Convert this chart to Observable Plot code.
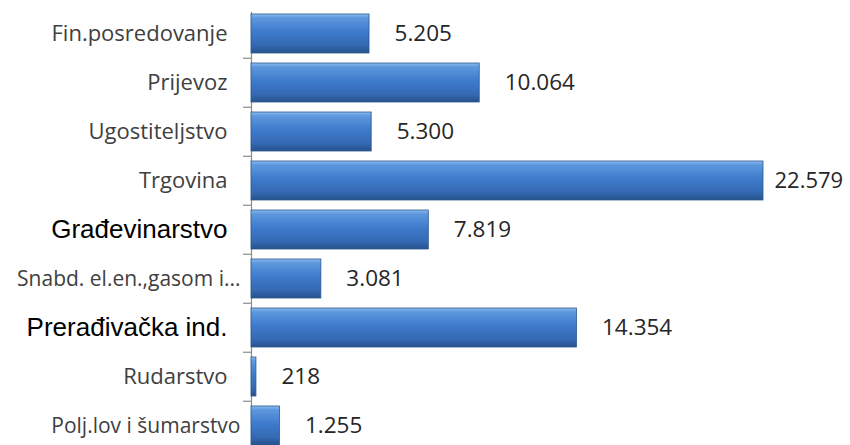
<!DOCTYPE html>
<html>
<head>
<meta charset="utf-8">
<script src="https://cdn.jsdelivr.net/npm/d3@7"></script>
<script src="https://cdn.jsdelivr.net/npm/@observablehq/plot@0.6"></script>
<style>
  html, body { margin: 0; padding: 0; background: #fff; }
  #chart svg { display: block; }
</style>
</head>
<body>
<div id="chart"></div>
<script>
const categories = [
  "Fin.posredovanje",
  "Prijevoz",
  "Ugostiteljstvo",
  "Trgovina",
  "Građevinarstvo",
  "Snabd. el.en.,gasom i...",
  "Prerađivačka ind.",
  "Rudarstvo",
  "Polj.lov i šumarstvo"
];
const values = [5205, 10064, 5300, 22579, 7819, 3081, 14354, 218, 1255];
const valueLabels = ["5.205", "10.064", "5.300", "22.579", "7.819", "3.081", "14.354", "218", "1.255"];
const altFontLabels = ["Građevinarstvo", "Prerađivačka ind."];
const wideLabels = ["Snabd. el.en.,gasom i...", "Polj.lov i šumarstvo"];

const data = categories.map((c, i) => ({category: c, value: values[i], label: valueLabels[i]}));
const maxValue = d3.max(values);
const normalLabels = data.filter(d => !altFontLabels.includes(d.category) && !wideLabels.includes(d.category));
const wideLabelData = data.filter(d => wideLabels.includes(d.category));
const altLabels = data.filter(d => altFontLabels.includes(d.category));

const calibriLike = "'Open Sans', 'Noto Sans', sans-serif";
const xRange = [251, 763];
const tickLen = 8;

const chart = Plot.plot({
  width: 850,
  height: 445,
  marginTop: 12,
  marginBottom: 0,
  marginLeft: xRange[0] - tickLen,
  marginRight: 850 - xRange[1],
  x: {domain: [0, maxValue], range: xRange, axis: null},
  y: {domain: categories, range: [2.1, 457.5], padding: 0.2, axis: null},
  marks: [
    Plot.ruleX([0], {stroke: "#8c8c8c", strokeWidth: 1.2}),
    Plot.tickY(categories.slice(1), {
      y: d => d, dy: -24.75, insetRight: xRange[1] - xRange[0],
      stroke: "#8c8c8c", strokeWidth: 1.2
    }),
    Plot.barX(data, {
      y: "category",
      x: "value",
      fill: "url(#barGrad)",
      stroke: "#2b5890",
      strokeWidth: 0.8,
      style: "filter: drop-shadow(0px 3px 2px rgba(0,0,0,0.35))"
    }),
    Plot.text(normalLabels, {
      y: "category", x: 0, text: "category", textAnchor: "end", dx: -24,
      fontFamily: calibriLike, fontSize: 22, fill: "#404040"
    }),
    Plot.text(wideLabelData, {
      y: "category", x: 0, text: "category", textAnchor: "end", dx: -11,
      fontFamily: calibriLike, fontSize: 21, fill: "#404040"
    }),
    Plot.text(altLabels, {
      y: "category", x: 0, text: "category", textAnchor: "end", dx: -24,
      fontFamily: "'Liberation Sans', Arial, sans-serif", fontSize: 26, fill: "#000"
    }),
    Plot.text(data.filter(d => d.value < maxValue), {
      y: "category", x: "value", text: "label", textAnchor: "start", dx: 25,
      fontFamily: calibriLike, fontSize: 22.5, fill: "#262626"
    }),
    Plot.text(data.filter(d => d.value === maxValue), {
      y: "category", x: "value", text: "label", textAnchor: "start", dx: 11,
      fontFamily: calibriLike, fontSize: 22, fill: "#262626"
    })
  ]
});

const svg = d3.select(chart);
const defs = svg.insert("defs", ":first-child");
const g = defs.append("linearGradient").attr("id", "barGrad").attr("x1", 0).attr("y1", 0).attr("x2", 0).attr("y2", 1);
[["0%", "#8cbcef"], ["10%", "#5d98de"], ["45%", "#3e7bcb"], ["80%", "#3569b3"], ["100%", "#27528c"]]
  .forEach(([o, c]) => g.append("stop").attr("offset", o).attr("stop-color", c));
document.getElementById("chart").appendChild(chart);
</script>
</body>
</html>
